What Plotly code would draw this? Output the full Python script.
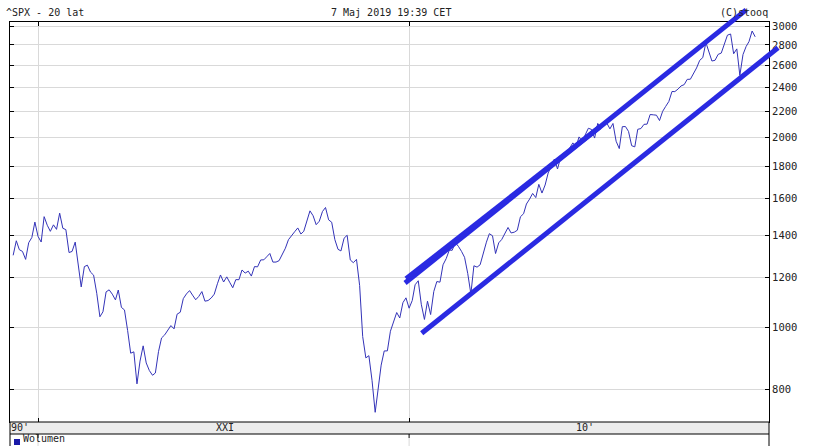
import numpy as np
import pandas as pd
import plotly.graph_objects as go

# ---------------- data ----------------
# S&P 500 monthly closes, May 1999 .. May 2019
spx_close = [
    1301.8, 1372.7, 1328.7, 1320.4, 1282.7, 1362.9, 1388.9, 1469.3,                          # 1999 May-Dec
    1394.5, 1366.4, 1498.6, 1452.4, 1420.6, 1454.6, 1430.8, 1517.7, 1436.5, 1429.4, 1315.0, 1320.3,  # 2000
    1366.0, 1239.9, 1160.3, 1249.5, 1255.8, 1224.4, 1211.2, 1133.6, 1040.9, 1059.8, 1139.5, 1148.1,  # 2001
    1130.2, 1106.7, 1147.4, 1076.9, 1067.1, 989.8, 911.6, 916.1, 815.3, 885.8, 936.3, 879.8,         # 2002
    855.7, 841.2, 848.2, 916.9, 963.6, 974.5, 990.3, 1008.0, 996.0, 1050.7, 1058.2, 1111.9,          # 2003
    1131.1, 1144.9, 1126.2, 1107.3, 1120.7, 1140.8, 1101.7, 1104.2, 1114.6, 1130.2, 1173.8, 1211.9,  # 2004
    1181.3, 1203.6, 1180.6, 1156.9, 1191.5, 1191.3, 1234.2, 1220.3, 1228.8, 1207.0, 1249.5, 1248.3,  # 2005
    1280.1, 1280.7, 1294.8, 1310.6, 1270.1, 1270.2, 1276.7, 1303.8, 1335.9, 1377.9, 1400.6, 1418.3,  # 2006
    1438.2, 1406.8, 1420.9, 1482.4, 1530.6, 1503.4, 1455.3, 1474.0, 1526.8, 1549.4, 1481.1, 1468.4,  # 2007
    1378.6, 1330.6, 1322.7, 1385.6, 1400.4, 1280.0, 1267.4, 1282.8, 1166.4, 968.8, 896.2, 903.3,     # 2008
    825.9, 735.1, 797.9, 872.8, 919.1, 919.3, 987.5, 1020.6, 1057.1, 1036.2, 1095.6, 1115.1,         # 2009
    1073.9, 1104.5, 1169.4, 1186.7, 1089.4, 1030.7, 1101.6, 1049.3, 1141.2, 1183.3, 1180.6, 1257.6,  # 2010
    1286.1, 1327.2, 1325.8, 1363.6, 1345.2, 1320.6, 1292.3, 1218.9, 1131.4, 1253.3, 1247.0, 1257.6,  # 2011
    1312.4, 1365.7, 1408.5, 1397.9, 1310.3, 1362.2, 1379.3, 1406.6, 1440.7, 1412.2, 1416.2, 1426.2,  # 2012
    1498.1, 1514.7, 1569.2, 1597.6, 1630.7, 1606.3, 1685.7, 1633.0, 1681.6, 1756.5, 1805.8, 1848.4,  # 2013
    1782.6, 1859.5, 1872.3, 1884.0, 1923.6, 1960.2, 1930.7, 2003.4, 1972.3, 2018.1, 2067.6, 2058.9,  # 2014
    1995.0, 2104.5, 2067.9, 2085.5, 2107.4, 2063.1, 2103.8, 1972.2, 1920.0, 2079.4, 2080.4, 2043.9,  # 2015
    1940.2, 1932.2, 2059.7, 2065.3, 2097.0, 2098.9, 2173.6, 2171.0, 2168.3, 2126.2, 2198.8, 2238.8,  # 2016
    2278.9, 2363.6, 2362.7, 2384.2, 2411.8, 2423.4, 2470.3, 2471.7, 2519.4, 2575.3, 2647.6, 2673.6,  # 2017
    2823.8, 2713.8, 2640.9, 2648.1, 2705.3, 2718.4, 2816.3, 2901.5, 2914.0, 2711.7, 2760.2, 2506.9,  # 2018
    2704.1, 2784.5, 2834.4, 2945.8, 2884.1,                                                          # 2019 Jan-May
]
spx_dates = pd.date_range("1999-05-01", periods=len(spx_close), freq="MS")

y_tick_values = [800, 1000, 1200, 1400, 1600, 1800, 2000, 2200, 2400, 2600, 2800, 3000]
x_grid_dates = ["2000-01-01", "2010-01-01"]
decade_labels = ["90'", "XXI", "10'"]
decade_label_dates = ["1999-07-07", "2005-01-15", "2014-09-28"]

# hand-drawn channel lines (date, value) endpoints
channel_upper_a_dates = ["2009-11-22", "2019-02-01"]
channel_upper_a_values = [1177, 3181]
channel_upper_b_dates = ["2009-12-02", "2015-02-23"]
channel_upper_b_values = [1195, 2079]
channel_lower_dates = ["2010-05-05", "2019-12-12"]
channel_lower_values = [980, 2772]

title_left = "^SPX - 20 lat"
title_mid = "7 Maj 2019 19:39 CET"
title_right = "(C)stooq"
volume_label = "Wolumen"

# ---------------- layout geometry ----------------
W, H = 837, 446
L, R, T, B = 10, 769, 22, 422          # plot area in pixels
x_range = [pd.Timestamp("1999-03-31"), pd.Timestamp("2019-09-14")]
y_range = [np.log10(709.6), np.log10(3044.0)]

MONO = "DejaVu Sans Mono"
LINE_BLUE = "#3333b8"
CHAN_BLUE = "#2a2ae2"
GRID = "#d9d9d9"


def px_x(p):
    return (p - L) / (R - L)


def px_y(p):
    return (B - p) / (B - T)


def date_to_paper(d):
    t = pd.Timestamp(d)
    return (t - x_range[0]) / (x_range[1] - x_range[0])


def val_to_paper(v):
    return (np.log10(v) - y_range[0]) / (y_range[1] - y_range[0])


fig = go.Figure()
fig.add_trace(go.Scatter(
    x=spx_dates, y=spx_close, mode="lines",
    line=dict(color=LINE_BLUE, width=1), hoverinfo="skip",
))

shapes = []
# grey date band under the plot
shapes.append(dict(type="rect", xref="paper", yref="paper",
                   x0=0, x1=1, y0=px_y(434), y1=px_y(422),
                   fillcolor="#ececec", line=dict(color="black", width=1), layer="above"))
# volume panel frame below the band
for xp in (0, 1):
    shapes.append(dict(type="line", xref="paper", yref="paper",
                       x0=xp, x1=xp, y0=px_y(446), y1=px_y(434),
                       line=dict(color="black", width=1)))
for d in x_grid_dates:
    shapes.append(dict(type="line", xref="x", yref="paper",
                       x0=d, x1=d, y0=px_y(446), y1=px_y(438),
                       line=dict(color=GRID, width=1)))
    shapes.append(dict(type="line", xref="x", yref="paper",
                       x0=d, x1=d, y0=px_y(438), y1=px_y(434),
                       line=dict(color="black", width=1)))

# channel lines (drawn in paper space so they may run past the frame)
for ds, vs, w in ((channel_upper_a_dates, channel_upper_a_values, 5),
                  (channel_upper_b_dates, channel_upper_b_values, 5),
                  (channel_lower_dates, channel_lower_values, 5)):
    shapes.append(dict(type="line", xref="paper", yref="paper",
                       x0=date_to_paper(ds[0]), y0=val_to_paper(vs[0]),
                       x1=date_to_paper(ds[1]), y1=val_to_paper(vs[1]),
                       line=dict(color=CHAN_BLUE, width=w), layer="above"))

# small legend square for volume
shapes.append(dict(type="rect", xref="paper", yref="paper",
                   x0=px_x(14), x1=px_x(20), y0=px_y(445), y1=px_y(439),
                   fillcolor="#1a1aa8", line=dict(width=0)))

annotations = [
    dict(text=title_left, xref="paper", yref="paper", x=px_x(4), y=px_y(12),
         xanchor="left", yanchor="middle", showarrow=False,
         font=dict(family=MONO, size=10, color="#222")),
    dict(text=title_mid, xref="paper", yref="paper", x=px_x(391), y=px_y(12),
         xanchor="center", yanchor="middle", showarrow=False,
         font=dict(family=MONO, size=10, color="#222")),
    dict(text=title_right, xref="paper", yref="paper", x=px_x(770), y=px_y(12),
         xanchor="right", yanchor="middle", showarrow=False,
         font=dict(family=MONO, size=10, color="#222")),
    dict(text=volume_label, xref="paper", yref="paper", x=px_x(21), y=px_y(446),
         xanchor="left", yanchor="bottom", showarrow=False,
         font=dict(family=MONO, size=10, color="#222")),
]
for lab, d in zip(decade_labels, decade_label_dates):
    annotations.append(dict(text=lab, xref="x", yref="paper", x=d, y=px_y(428),
                            xanchor="center", yanchor="middle", showarrow=False,
                            font=dict(family=MONO, size=10, color="#222")))

fig.update_layout(
    width=W, height=H,
    margin=dict(l=L, r=W - R, t=T, b=H - B, pad=0),
    paper_bgcolor="white", plot_bgcolor="white",
    showlegend=False,
    shapes=shapes, annotations=annotations,
    xaxis=dict(type="date", range=[x_range[0].strftime("%Y-%m-%d"), x_range[1].strftime("%Y-%m-%d")],
               tickmode="array", tickvals=x_grid_dates, showticklabels=False,
               ticks="inside", ticklen=4, tickcolor="black",
               showline=True, linecolor="black", linewidth=1, mirror="ticks",
               showgrid=True, gridcolor=GRID, gridwidth=1, zeroline=False, fixedrange=True),
    yaxis=dict(type="log", range=y_range, side="right",
               tickmode="array", tickvals=y_tick_values, ticktext=[str(v) for v in y_tick_values],
               ticks="inside", ticklen=4, tickcolor="black",
               showline=True, linecolor="black", linewidth=1, mirror="ticks",
               showgrid=True, gridcolor=GRID, gridwidth=1, zeroline=False,
               tickfont=dict(family=MONO, size=10.5, color="#222"), fixedrange=True),
)

fig.write_html(
    "out.html",
    config={"displayModeBar": False},
    post_script="document.body.style.margin='0px';document.body.style.overflow='hidden';",
)
